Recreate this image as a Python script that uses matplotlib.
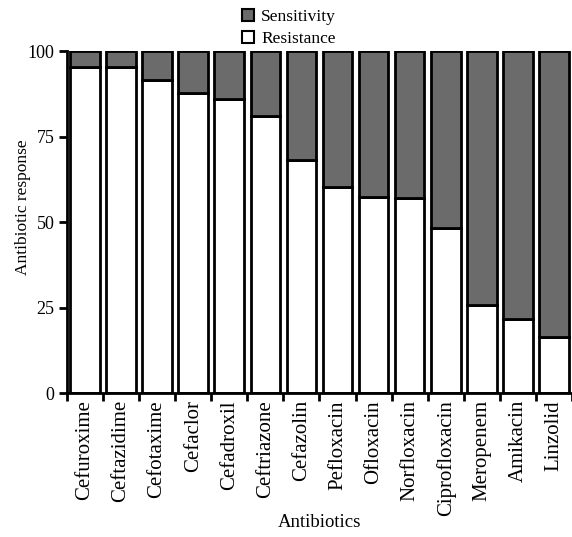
import numpy as np
import matplotlib.pyplot as plt
from matplotlib.patches import Patch

antibiotics = ['Cefuroxime', 'Ceftazidime', 'Cefotaxime', 'Cefaclor', 'Cefadroxil',
               'Ceftriazone', 'Cefazolin', 'Pefloxacin', 'Ofloxacin', 'Norfloxacin',
               'Ciprofloxacin', 'Meropenem', 'Amikacin', 'Linzolid']
resistance = [95.3, 95.3, 91.5, 87.7, 86.0, 81.0, 68.2, 60.2, 57.3, 57.0, 48.2, 25.7, 21.8, 16.3]
sensitivity = [100 - r for r in resistance]

plt.rcParams['font.family'] = ['Liberation Serif', 'DejaVu Serif']

fig = plt.figure(figsize=(5.72, 5.37), dpi=100)
ax = fig.add_axes([0.117, 0.268, 0.883, 0.637])

x = np.arange(len(antibiotics))
ax.bar(x, resistance, width=0.82, color='white', edgecolor='black', linewidth=2)
ax.bar(x, sensitivity, bottom=resistance, width=0.82, color='#6b6b6b',
       edgecolor='black', linewidth=2)

ax.set_xlim(-0.5, len(antibiotics) - 0.5)
ax.set_ylim(0, 100)
ax.set_yticks([0, 25, 50, 75, 100])
ax.set_xticks(x)
ax.set_xticklabels(antibiotics, rotation=90, fontsize=15)
ax.set_xticks(np.arange(-0.5, len(antibiotics)), minor=True)
ax.tick_params(axis='x', which='major', length=0, pad=5)
ax.tick_params(axis='x', which='minor', length=6, width=2, direction='out')
ax.tick_params(axis='y', length=6, width=2, labelsize=13, pad=3)

for s in ['top', 'right']:
    ax.spines[s].set_visible(False)
ax.spines['left'].set_linewidth(2)
ax.spines['bottom'].set_linewidth(2)

ax.set_ylabel('Antibiotic response', fontsize=12.5, va='center')
ax.yaxis.set_label_coords(-0.087, 0.544)
ax.set_xlabel('Antibiotics', fontsize=13.5, va='center')
ax.xaxis.set_label_coords(0.5, -0.377)

handles = [Patch(facecolor='#6b6b6b', edgecolor='black', linewidth=1.5, label='Sensitivity'),
           Patch(facecolor='white', edgecolor='black', linewidth=1.5, label='Resistance')]
fig.legend(handles=handles, loc='upper left', bbox_to_anchor=(0.396, 1.012), frameon=False,
           fontsize=12.5, handlelength=0.7, handleheight=0.7, handletextpad=0.4,
           labelspacing=0.3)

fig.savefig('out.png', dpi=100)
